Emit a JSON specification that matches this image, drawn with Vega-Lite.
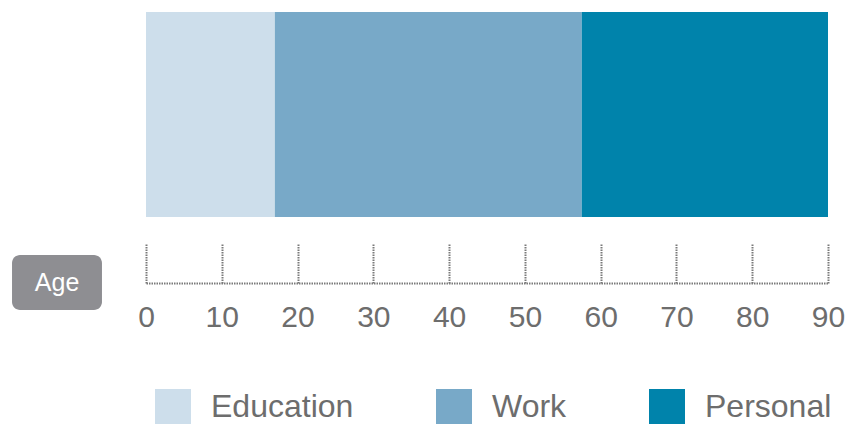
{
  "$schema": "https://vega.github.io/schema/vega-lite/v6.json",
  "background": "white",
  "padding": {"left": 12, "top": 12, "right": 0, "bottom": 0},
  "bounds": "flush",
  "spacing": 38,
  "config": {
    "view": {"stroke": null},
    "font": "Liberation Sans"
  },
  "datasets": {
    "stages": [
      {"stage": "Education", "start": 0, "end": 17},
      {"stage": "Work", "start": 17, "end": 57.5},
      {"stage": "Personal", "start": 57.5, "end": 90}
    ],
    "label": [{"text": "Age", "left": -17.68, "right": -5.81, "mid": -11.74}]
  },
  "vconcat": [
    {
      "width": 682,
      "height": 205,
      "data": {"name": "stages"},
      "mark": {"type": "rect"},
      "encoding": {
        "x": {"field": "start", "type": "quantitative", "scale": {"domain": [0, 90], "nice": false, "zero": false}, "axis": null},
        "x2": {"field": "end"},
        "color": {
          "field": "stage",
          "type": "nominal",
          "scale": {"domain": ["Education", "Work", "Personal"], "range": ["#cddeeb", "#78a9c8", "#0083ab"]},
          "legend": {
            "orient": "none",
            "legendX": 9,
            "legendY": 377,
            "direction": "horizontal",
            "title": null,
            "padding": 0,
            "symbolType": "square",
            "symbolSize": 1296,
            "symbolStrokeWidth": 0,
            "symbolOpacity": 1,
            "labelFont": "Liberation Sans",
            "labelFontSize": 32,
            "labelColor": "#6d6d6d",
            "labelOffset": 20,
            "columnPadding": 82,
            "labelLimit": 400
          }
        }
      }
    },
    {
      "width": 682,
      "height": 55,
      "data": {"name": "label"},
      "layer": [
        {
          "mark": {"type": "rect", "color": "#8e8e92", "cornerRadius": 8},
          "encoding": {
            "x": {
              "field": "left",
              "type": "quantitative",
              "scale": {"domain": [0, 90], "nice": false, "zero": false},
              "axis": {
                "title": null,
                "orient": "bottom",
                "values": [0, 10, 20, 30, 40, 50, 60, 70, 80, 90],
                "offset": -27,
                "grid": false,
                "domainColor": "#7a7a7a",
                "domainWidth": 2,
                "domainDash": [1.5, 1],
                "tickColor": "#7a7a7a",
                "tickWidth": 2,
                "tickDash": [1.5, 1],
                "tickSize": -40,
                "labelPadding": 59,
                "labelFlush": false,
                "labelOverlap": false,
                "labelFont": "Liberation Sans",
                "labelFontSize": 30,
                "labelColor": "#6d6d6d",
                "labelBaseline": "top"
              }
            },
            "x2": {"field": "right"}
          }
        },
        {
          "mark": {"type": "text", "color": "white", "fontSize": 25, "font": "Liberation Sans", "align": "center", "baseline": "middle"},
          "encoding": {
            "x": {"field": "mid", "type": "quantitative"},
            "text": {"field": "text"}
          }
        }
      ]
    }
  ]
}
